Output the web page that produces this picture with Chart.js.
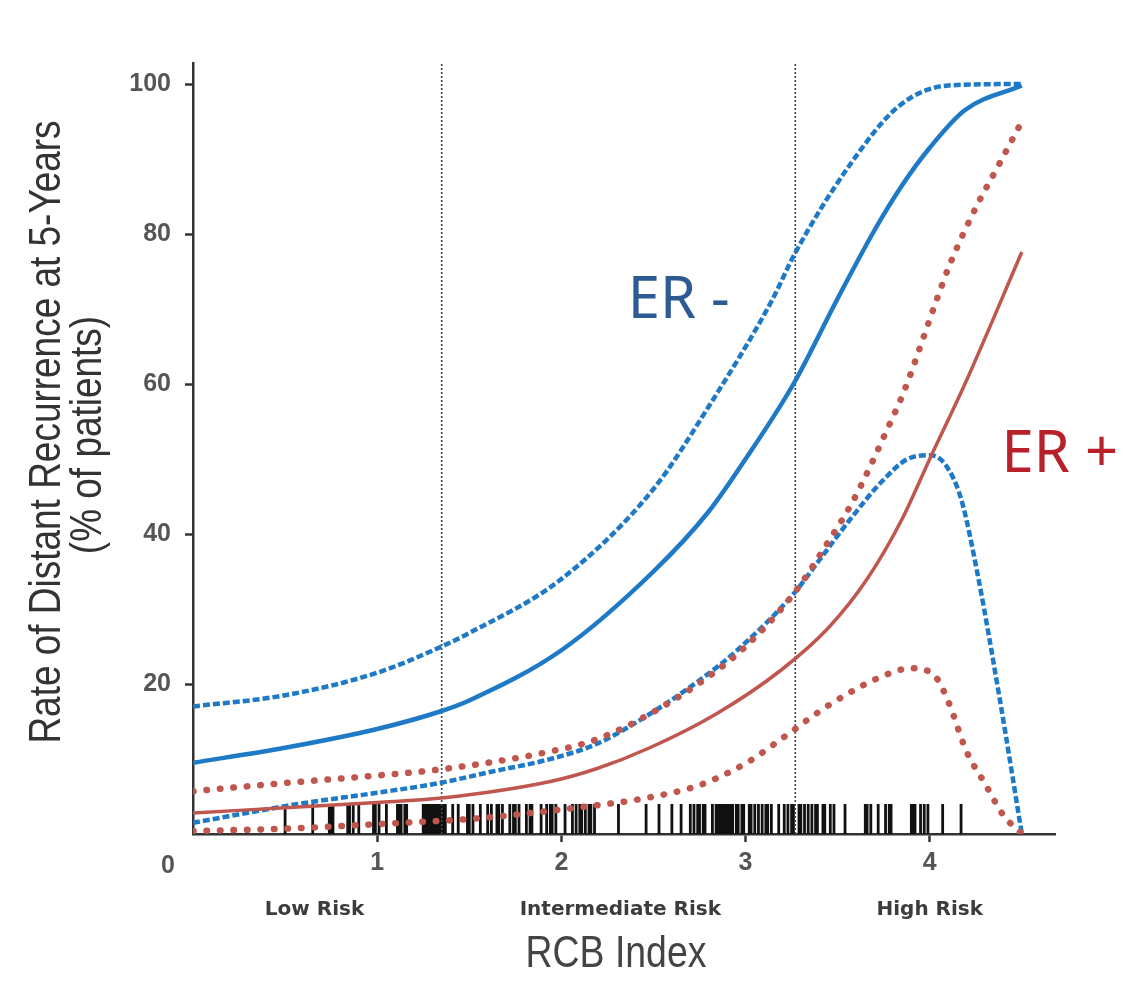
<!DOCTYPE html>
<html>
<head>
<meta charset="utf-8">
<title>RCB Index</title>
<style>
  html, body { margin: 0; padding: 0; background: #fff; }
</style>
<script src="https://cdn.jsdelivr.net/npm/chart.js"></script>
</head>
<body>
<canvas id="chart" width="1123" height="988"></canvas>
<script>
  // ER- curves (estimate + 95% band)
  const erNegMidX = [0, 0.5, 1.0, 1.35, 1.5, 2.0, 2.5, 2.8, 3.0, 3.26, 3.5, 3.7, 3.85, 4.0, 4.19, 4.5];
  const erNegMidY = [9.5, 11.5, 14, 16.4, 17.8, 24.5, 35, 43, 50, 60, 71.4, 80.5, 86.5, 91.5, 96.5, 99.8];
  const erNegUpX = [0, 0.5, 1.0, 1.35, 1.5, 2.0, 2.5, 2.8, 3.14, 3.27, 3.56, 3.83, 4.1, 4.5];
  const erNegUpY = [17, 18.5, 21.5, 25, 26.8, 34, 46, 57, 71, 77.5, 89, 97, 99.8, 100];
  const erNegLowX = [0, 0.57, 1.0, 1.34, 1.6, 1.94, 2.19, 2.48, 2.75, 2.95, 3.26, 3.4, 3.56, 3.74, 3.88, 4.0, 4.08, 4.17, 4.26, 4.38, 4.5];
  const erNegLowY = [1.5, 4, 5.5, 6.8, 8.2, 10, 12, 16, 20.5, 24.4, 32, 36.5, 41.7, 47, 50, 50.5, 49.4, 44.7, 34.6, 18, 0];

  // ER+ curves
  const erPosMidX = [0, 0.5, 1.0, 1.35, 1.94, 2.19, 2.48, 2.84, 3.19, 3.45, 3.66, 3.85, 4.0, 4.2, 4.5];
  const erPosMidY = [2.8, 3.5, 4.2, 4.8, 7, 8.7, 11.5, 16, 21.8, 27.5, 34, 42, 50, 60.5, 77.6];
  const erPosUpX = [0, 0.5, 1.0, 1.34, 1.94, 2.19, 2.48, 2.8, 3.0, 3.26, 3.45, 3.59, 3.77, 3.86, 4.04, 4.11, 4.26, 4.37, 4.5];
  const erPosUpY = [5.7, 6.8, 7.8, 8.6, 11, 12.6, 16, 21, 25, 32, 39, 44.7, 54, 59, 71.4, 76, 84, 89, 95];
  const erPosLowX = [0, 0.49, 1.14, 1.5, 2.08, 2.46, 2.76, 3.02, 3.19, 3.46, 3.74, 3.9, 4.03, 4.1, 4.2, 4.3, 4.4, 4.5];
  const erPosLowY = [0.4, 0.7, 1.5, 2, 3.5, 4.8, 6.6, 9.7, 12.6, 17.3, 21, 22.1, 21, 17.7, 11, 6.7, 2.5, 0];

  // RCB class cut-offs and patient rug
  const cutoffs = [1.35, 3.27];
  const rugX = [
    0.50, 0.65, 0.74, 0.75, 0.76, 0.84, 0.85, 0.87, 0.90, 0.98, 0.99, 1.01, 1.05,
    1.11, 1.12, 1.13, 1.15, 1.16, 1.25, 1.26, 1.27, 1.28, 1.29, 1.30, 1.31, 1.32,
    1.33, 1.34, 1.35, 1.36, 1.37, 1.41, 1.44, 1.49, 1.50, 1.52, 1.56, 1.60, 1.62,
    1.65, 1.66, 1.68, 1.72, 1.74, 1.75, 1.77, 1.81, 1.83, 1.84, 1.89, 1.92, 1.94,
    1.95, 1.97, 2.02, 2.06, 2.08, 2.10, 2.11, 2.13, 2.15, 2.16, 2.18, 2.31, 2.46,
    2.53, 2.60, 2.65, 2.70, 2.72, 2.74, 2.75, 2.77, 2.78, 2.82, 2.84, 2.85, 2.86,
    2.87, 2.88, 2.89, 2.90, 2.91, 2.92, 2.93, 2.95, 2.96, 2.98, 2.99, 3.02, 3.03,
    3.05, 3.07, 3.09, 3.11, 3.12, 3.14, 3.18, 3.21, 3.23, 3.25, 3.26, 3.29, 3.30,
    3.32, 3.34, 3.36, 3.38, 3.39, 3.42, 3.43, 3.46, 3.48, 3.54, 3.65, 3.66, 3.68,
    3.72, 3.76, 3.78, 3.79, 3.90, 3.91, 3.92, 3.95, 3.97, 3.99, 4.07, 4.17
  ];

  const riskLabels = ['Low Risk', 'Intermediate Risk', 'High Risk'];
  const riskCenters = [0.66, 2.32, 4.0];
  const yTitle = ['Rate of Distant Recurrence at 5-Years', '(% of patients)'];
  const xTitle = 'RCB Index';

  const blue = '#1e7ac6';
  const red = '#c0574f';

  function toPoints(xs, ys) {
    return xs.map((x, i) => ({ x: x, y: ys[i] }));
  }

  // condensed text (the original uses a narrow face)
  function narrowText(ctx, text, x, y, rot, sx) {
    ctx.save();
    ctx.translate(x, y);
    ctx.rotate(rot);
    ctx.scale(sx, 1);
    ctx.fillText(text, 0, 0);
    ctx.restore();
  }

  const annotations = {
    id: 'annotations',
    afterDraw(chart) {
      const ctx = chart.ctx;
      const xs = chart.scales.x;
      const ys = chart.scales.y;
      ctx.save();
      // shared origin label
      ctx.fillStyle = '#555';
      ctx.font = 'bold 25px "Liberation Sans", Arial, sans-serif';
      ctx.textAlign = 'center';
      ctx.textBaseline = 'middle';
      ctx.fillText('0', xs.left - 25, ys.bottom + 32);

      // risk class labels
      ctx.fillStyle = '#3c3c3c';
      ctx.font = 'bold 20px "DejaVu Sans", sans-serif';
      riskLabels.forEach((t, i) => {
        ctx.fillText(t, xs.getPixelForValue(riskCenters[i]), ys.bottom + 76);
      });

      // axis titles
      ctx.font = '44px "Liberation Sans", Arial, sans-serif';
      ctx.fillStyle = '#333';
      narrowText(ctx, yTitle[0], 48, 432, -Math.PI / 2, 0.84);
      narrowText(ctx, yTitle[1], 89, 435, -Math.PI / 2, 0.84);
      ctx.fillStyle = '#444';
      narrowText(ctx, xTitle, (xs.left + xs.right) / 2 - 8, 955, 0, 0.85);

      // group labels
      ctx.textAlign = 'left';
      ctx.font = '58px "Noto Sans", sans-serif';
      ctx.fillStyle = '#2e5a93';
      ctx.fillText('ER -', xs.getPixelForValue(2.36), ys.getPixelForValue(71));
      ctx.fillStyle = '#b8202a';
      ctx.fillText('ER +', xs.getPixelForValue(4.39), ys.getPixelForValue(50.5));
      ctx.restore();
    }
  };

  const lineBase = { fill: false, pointRadius: 0, cubicInterpolationMode: 'monotone' };

  const datasets = [
    Object.assign({ data: toPoints(erPosLowX, erPosLowY), borderColor: red, borderWidth: 6.5,
      borderDash: [0.5, 13], borderCapStyle: 'round' }, lineBase),
    Object.assign({ data: toPoints(erPosUpX, erPosUpY), borderColor: red, borderWidth: 6.5,
      borderDash: [0.5, 13], borderCapStyle: 'round' }, lineBase),
    Object.assign({ data: toPoints(erPosMidX, erPosMidY), borderColor: red, borderWidth: 3.5 }, lineBase),
    Object.assign({ data: toPoints(erNegLowX, erNegLowY), borderColor: blue, borderWidth: 4.5,
      borderDash: [7, 3] }, lineBase),
    Object.assign({ data: toPoints(erNegUpX, erNegUpY), borderColor: blue, borderWidth: 4.5,
      borderDash: [7, 3] }, lineBase),
    Object.assign({ data: toPoints(erNegMidX, erNegMidY), borderColor: blue, borderWidth: 4.5 }, lineBase),
  ];

  cutoffs.forEach(c => {
    datasets.push({
      data: [{ x: c, y: 0 }, { x: c, y: 102.8 }],
      borderColor: '#444', borderWidth: 1.6, borderDash: [2, 2], pointRadius: 0, fill: false
    });
  });

  datasets.push({
    type: 'scatter',
    data: rugX.map(x => ({ x: x, y: 2 })),
    pointStyle: 'line', rotation: 90, pointRadius: 15,
    borderColor: '#111', backgroundColor: '#111', borderWidth: 2.8
  });

  const tickFont = { family: '"Liberation Sans", Arial, sans-serif', size: 25, weight: 'bold' };
  const hideZeroTick = c => (c.tick && c.tick.value === 0 ? 'rgba(0,0,0,0)' : '#333');

  new Chart(document.getElementById('chart'), {
    type: 'line',
    data: { datasets: datasets },
    options: {
      responsive: false,
      animation: false,
      layout: { padding: { top: 63, right: 68, bottom: 0, left: 0 } },
      plugins: { legend: { display: false }, tooltip: { enabled: false } },
      scales: {
        x: {
          type: 'linear', min: 0, max: 4.68,
          afterFit: s => { s.height = 154; },
          border: { display: true, color: '#333', width: 2.5 },
          grid: { drawOnChartArea: false, drawTicks: true, tickLength: 8, tickWidth: 2.5, tickColor: hideZeroTick },
          ticks: {
            stepSize: 1, includeBounds: false, padding: 6, color: '#555', font: tickFont,
            callback: v => (v === 0 ? '' : v)
          }
        },
        y: {
          min: 0, max: 102.8,
          afterFit: s => { s.width = 193; },
          border: { display: true, color: '#333', width: 2.5 },
          grid: { drawOnChartArea: false, drawTicks: true, tickLength: 8, tickWidth: 2.5, tickColor: hideZeroTick },
          ticks: {
            stepSize: 20, includeBounds: false, padding: 14, color: '#555', font: tickFont,
            callback: v => (v === 0 ? '' : v)
          }
        }
      }
    },
    plugins: [annotations]
  });
</script>
</body>
</html>
